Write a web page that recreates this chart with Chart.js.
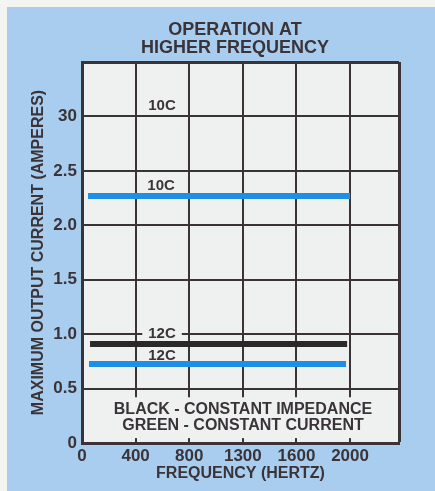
<!DOCTYPE html>
<html>
<head>
<meta charset="utf-8">
<script src="https://cdn.jsdelivr.net/npm/chart.js@4/dist/chart.umd.min.js"></script>
<style>
  html, body { margin: 0; padding: 0; background: #f4f4f0; }
  #panel { position: absolute; left: 7px; top: 7px; width: 428px; height: 484px; background: #a9cdef; }
  canvas { display: block; }
</style>
</head>
<body>
<div id="panel"><canvas id="chart" width="428" height="484"></canvas></div>
<script>
// tick labels as printed on the original (note "1300" and "30")
const xTickValues = [0, 400, 800, 1200, 1600, 2000, 2365];
const xTickLabels = ['0', '400', '800', '1300', '1600', '2000', ''];
const yTickValues = [0, 0.5, 1.0, 1.5, 2.0, 2.5, 3.0, 3.5];
const yTickLabels = ['0', '0.5', '1.0', '1.5', '2.0', '2.5', '30', ''];

// curves: frequency (Hz) / current (A)
const hertz10C = [45, 2000];
const amps10C = [2.27, 2.27];
const hertz12CBlack = [60, 1978];
const amps12CBlack = [0.91, 0.91];
const hertz12CBlue = [52, 1970];
const amps12CBlue = [0.726, 0.726];

// curve labels
const labelText = ['10C', '10C', '12C', '12C'];
const labelHertz = [597, 590, 597, 597];
const labelAmps = [3.11, 2.375, 1.01, 0.81];

const noteLines = ['BLACK - CONSTANT IMPEDANCE', 'GREEN - CONSTANT CURRENT'];
const titleLines = ['OPERATION AT', 'HIGHER FREQUENCY'];

const ink = '#3a3438';
const plotBg = '#eff1f1';
const font = '"Liberation Sans", Arial, sans-serif';

const toPoints = (xs, ys) => xs.map((x, i) => ({ x: x, y: ys[i] }));

const decor = {
  id: 'decor',
  beforeDraw(chart) {
    const { ctx, chartArea: a } = chart;
    ctx.save();
    ctx.fillStyle = plotBg;
    ctx.fillRect(a.left, a.top, a.right - a.left, a.bottom - a.top);
    // title
    ctx.fillStyle = ink;
    ctx.font = 'bold 18px ' + font;
    ctx.textAlign = 'center';
    ctx.textBaseline = 'middle';
    ctx.fillText(titleLines[0], 228, 23);
    ctx.fillText(titleLines[1], 228, 41);
    ctx.restore();
  },
  beforeDatasetsDraw(chart) {
    const { ctx, chartArea: a, scales: { x, y } } = chart;
    ctx.save();
    // note box hides the grid below 0.5
    const top = y.getPixelForValue(0.42);
    const bot = y.getPixelForValue(0.045);
    ctx.fillStyle = plotBg;
    ctx.fillRect(a.left + 2, top, a.right - a.left - 4, bot - top);
    ctx.fillStyle = ink;
    ctx.font = 'bold 16px ' + font;
    ctx.textAlign = 'center';
    ctx.textBaseline = 'middle';
    const cx = x.getPixelForValue(1201);
    ctx.fillText(noteLines[0], cx, y.getPixelForValue(0.315) + 1);
    ctx.fillText(noteLines[1], cx, y.getPixelForValue(0.17) + 1);
    // curve labels
    ctx.font = 'bold 15px ' + font;
    labelText.forEach((t, i) => {
      const px = x.getPixelForValue(labelHertz[i]);
      const py = y.getPixelForValue(labelAmps[i]);
      const w = ctx.measureText(t).width;
      ctx.fillStyle = plotBg;
      ctx.fillRect(px - w / 2 - 6, py - 6, w + 12, 12);
      ctx.fillStyle = ink;
      ctx.fillText(t, px, py + 1);
    });
    ctx.restore();
  }
};

new Chart(document.getElementById('chart'), {
  type: 'line',
  data: {
    datasets: [
      { label: '10C', data: toPoints(hertz10C, amps10C), borderColor: '#1f8fe6', borderWidth: 6 },
      { label: '12C constant impedance', data: toPoints(hertz12CBlack, amps12CBlack), borderColor: '#2b2829', borderWidth: 6 },
      { label: '12C constant current', data: toPoints(hertz12CBlue, amps12CBlue), borderColor: '#1f8fe6', borderWidth: 6 }
    ]
  },
  options: {
    responsive: false,
    animation: false,
    layout: { padding: { top: 55, right: 36, left: 0, bottom: 0 } },
    elements: { point: { radius: 0 }, line: { borderCapStyle: 'butt', tension: 0 } },
    plugins: { legend: { display: false }, title: { display: false }, tooltip: { enabled: false } },
    scales: {
      x: {
        type: 'linear',
        min: 0,
        max: xTickValues[xTickValues.length - 1],
        afterFit: (s) => { s.height = 48; },
        afterBuildTicks: (s) => { s.ticks = xTickValues.map(v => ({ value: v })); },
        ticks: {
          padding: 3,
          color: ink,
          font: { family: font, size: 17, weight: 'bold' },
          callback: (v, i) => xTickLabels[i]
        },
        grid: { color: ink, lineWidth: (c) => (c.index === xTickValues.length - 1 ? 3 : 2), drawTicks: false },
        border: { color: ink, width: 3 },
        title: {
          display: true,
          text: 'FREQUENCY (HERTZ)',
          color: ink,
          font: { family: font, size: 16, weight: 'bold' },
          padding: { top: 0, bottom: 8 }
        }
      },
      y: {
        type: 'linear',
        min: 0,
        max: 3.5,
        afterFit: (s) => { s.width = 75; },
        afterBuildTicks: (s) => { s.ticks = yTickValues.map(v => ({ value: v })); },
        ticks: {
          padding: 5,
          color: ink,
          font: { family: font, size: 17, weight: 'bold' },
          callback: (v, i) => yTickLabels[i]
        },
        grid: { color: ink, lineWidth: (c) => (c.index === yTickValues.length - 1 ? 3 : 2), drawTicks: false },
        border: { color: ink, width: 3 },
        title: {
          display: true,
          text: 'MAXIMUM OUTPUT CURRENT (AMPERES)',
          color: ink,
          font: { family: font, size: 16, weight: 'bold' },
          padding: { top: 22, bottom: 0 }
        }
      }
    }
  },
  plugins: [decor]
});
</script>
</body>
</html>
